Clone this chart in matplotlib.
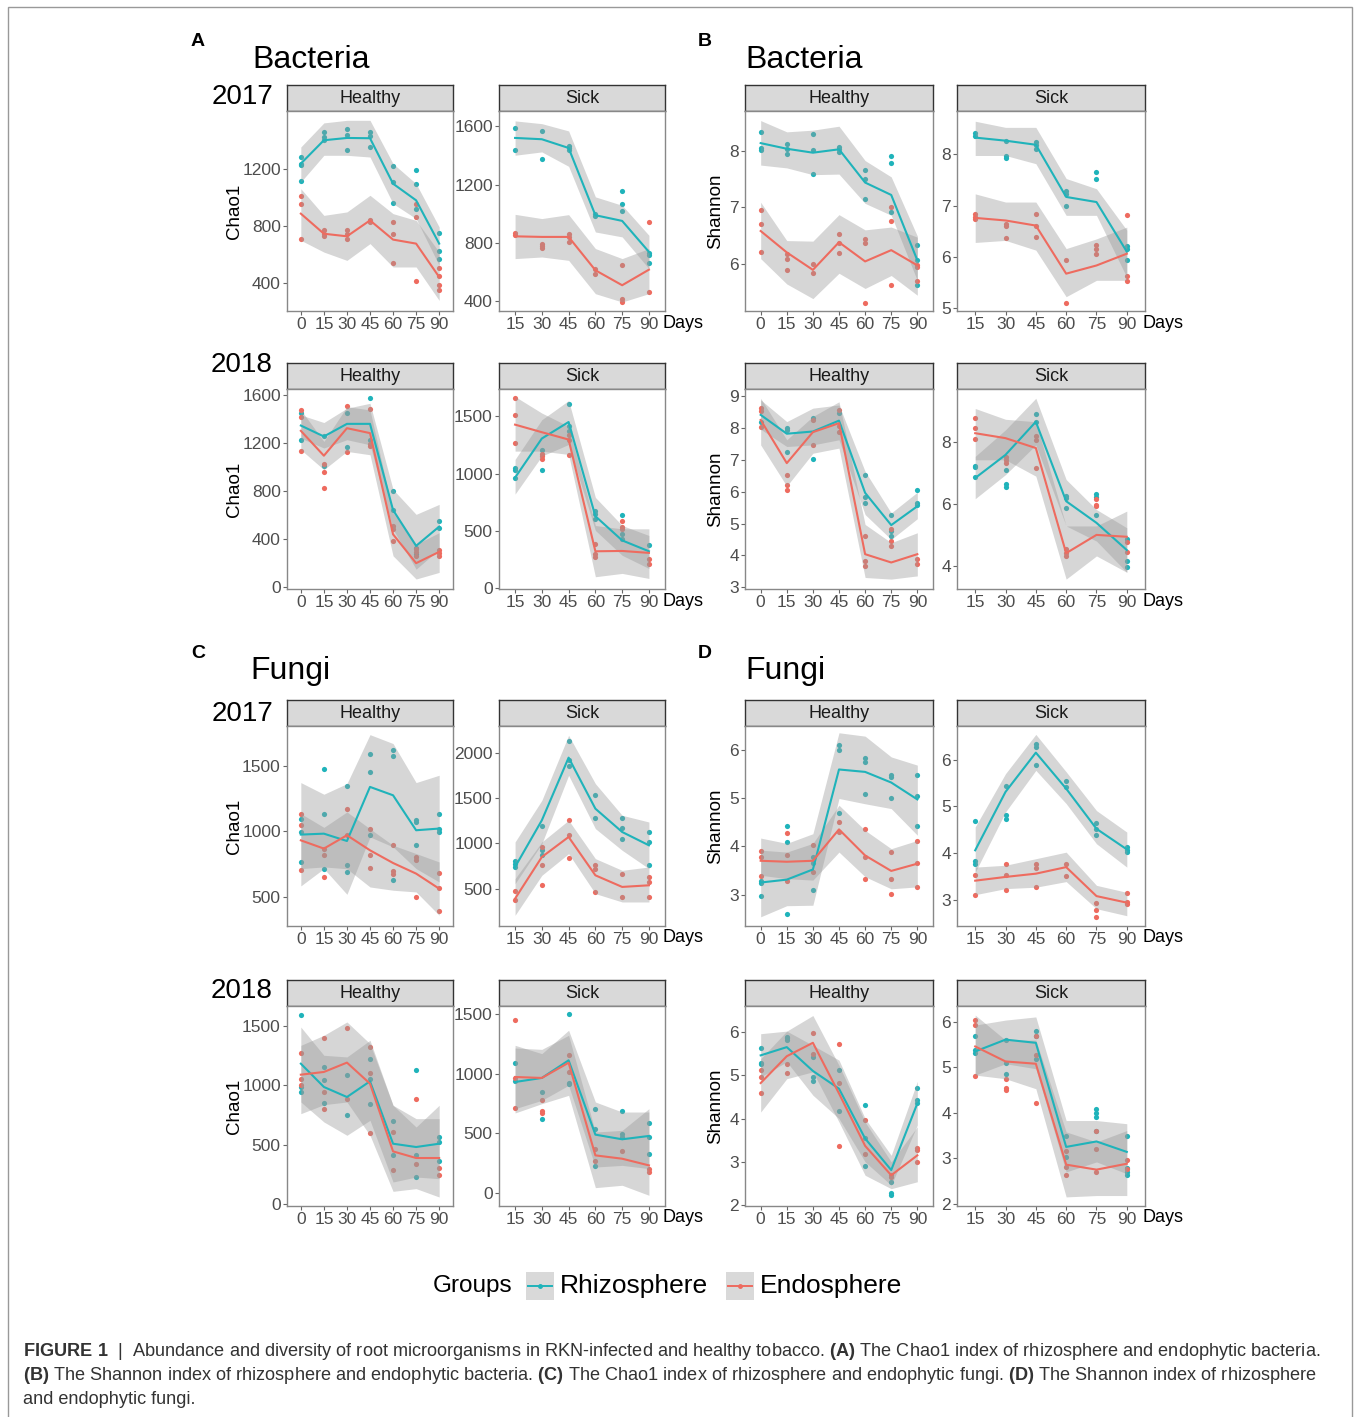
import numpy as np
import matplotlib
matplotlib.use('Agg')
import matplotlib.pyplot as plt
from matplotlib.patches import Rectangle
from matplotlib.lines import Line2D

plt.rcParams['font.family'] = ['Liberation Sans', 'DejaVu Sans']
plt.rcParams['mathtext.fontset'] = 'custom'
plt.rcParams['mathtext.rm'] = 'Liberation Sans'
plt.rcParams['mathtext.bf'] = 'Liberation Sans:bold'

days_healthy = [0, 15, 30, 45, 60, 75, 90]
days_sick = [15, 30, 45, 60, 75, 90]
groups = ['Rhizosphere', 'Endosphere']

# ---- A: Chao1 bacteria ----
A17H_R = [1235, 1398, 1414, 1412, 1095, 979, 677]
A17H_R_lo = [1107, 1293, 1293, 1281, 956, 851, 525]
A17H_R_hi = [1351, 1519, 1537, 1537, 1235, 1095, 793]
A17H_R_pts = [[1281, 1235, 1228, 1112], [1456, 1421, 1402], [1479, 1432, 1328], [1456, 1426, 1351],
              [1219, 1107, 960], [1188, 1095, 921], [753, 626, 567]]
A17H_E = [886, 746, 728, 839, 705, 677, 444]
A17H_E_lo = [700, 618, 560, 677, 514, 514, 281]
A17H_E_hi = [1060, 874, 898, 1014, 886, 839, 618]
A17H_E_pts = [[1009, 951, 712], [770, 746, 728], [770, 745, 712], [839, 835, 830],
              [828, 742, 544], [956, 863, 414], [507, 451, 386, 356]]

A17S_R = [1520, 1511, 1451, 989, 950, 737]
A17S_R_lo = [1401, 1424, 1325, 874, 840, 622]
A17S_R_hi = [1637, 1618, 1568, 1115, 1057, 851]
A17S_R_pts = [[1589, 1440], [1568, 1373], [1465, 1451, 1435], [1000, 984], [1153, 1069, 1018], [732, 716, 659]]
A17S_E = [844, 840, 840, 611, 508, 615]
A17S_E_lo = [691, 702, 679, 450, 393, 450]
A17S_E_hi = [995, 966, 993, 760, 691, 760]
A17S_E_pts = [[869, 856], [794, 778, 764], [858, 840, 805], [622, 588], [645, 416, 393], [943, 462]]

A18H_R = [1346, 1255, 1360, 1360, 643, 345, 505]
A18H_R_lo = [1241, 1159, 1228, 1186, 483, 151, 317]
A18H_R_hi = [1434, 1371, 1490, 1531, 814, 607, 690]
A18H_R_pts = [[1454, 1222], [1255, 1007], [1448, 1164], [1578, 1228], [805, 643], [331, 276], [552, 496]]
A18H_E = [1302, 1095, 1324, 1283, 441, 201, 295]
A18H_E_lo = [1145, 979, 1131, 1103, 262, 69, 124]
A18H_E_hi = [1476, 1214, 1503, 1476, 621, 358, 455]
A18H_E_pts = [[1476, 1421, 1131], [1029, 957, 827], [1509, 1123], [1481, 1194, 1172],
              [510, 483, 386], [317, 290, 262], [309, 284, 262]]

A18S_R = [966, 1307, 1451, 629, 418, 323]
A18S_R_lo = [822, 1154, 1255, 505, 288, 173]
A18S_R_hi = [1125, 1471, 1638, 793, 548, 461]
A18S_R_pts = [[1053, 1030, 966], [1206, 1033], [1610, 1413, 1370], [678, 649, 606], [640, 476, 433], [375]]
A18S_E = [1428, 1362, 1298, 323, 326, 309]
A18S_E_lo = [1197, 1197, 1168, 101, 130, 86]
A18S_E_hi = [1673, 1529, 1413, 548, 519, 519]
A18S_E_pts = [[1664, 1514, 1269], [1174, 1154, 1131], [1341, 1298, 1162], [383, 303, 274], [591, 539, 519], [259, 216]]

# ---- B: Shannon bacteria ----
B17H_R = [8.14, 8.04, 7.97, 8.03, 7.44, 7.22, 6.06]
B17H_R_lo = [7.75, 7.70, 7.58, 7.59, 7.07, 6.86, 5.70]
B17H_R_hi = [8.54, 8.34, 8.37, 8.44, 7.83, 7.54, 6.49]
B17H_R_pts = [[8.34, 8.05, 8.02], [8.13, 8.03, 7.94], [8.31, 8.01, 7.60], [8.07, 8.03, 7.98],
              [7.66, 7.50, 7.14], [7.92, 7.78, 6.92], [6.34, 6.06, 5.63]]
B17H_E = [6.58, 6.20, 5.89, 6.38, 6.04, 6.24, 5.97]
B17H_E_lo = [6.09, 5.64, 5.38, 5.83, 5.56, 5.79, 5.44]
B17H_E_hi = [7.09, 6.41, 6.40, 6.87, 6.60, 6.65, 6.47]
B17H_E_pts = [[6.95, 6.70, 6.21], [6.18, 6.09, 5.88], [5.99, 5.83], [6.52, 6.37, 6.19],
              [6.44, 6.37, 5.30], [7.00, 6.76, 5.63], [5.97, 5.94, 5.70]]

B17S_R = [8.33, 8.27, 8.19, 7.17, 7.07, 6.10]
B17S_R_lo = [7.98, 7.98, 7.82, 6.81, 6.81, 5.60]
B17S_R_hi = [8.65, 8.53, 8.53, 7.53, 7.33, 6.52]
B17S_R_pts = [[8.42, 8.37], [8.27, 7.98, 7.93], [8.24, 8.18, 8.10], [7.28, 7.23, 7.00], [7.65, 7.52], [6.21, 6.16, 5.93]]
B17S_E = [6.76, 6.71, 6.61, 5.67, 5.83, 6.06]
B17S_E_lo = [6.28, 6.32, 6.13, 5.22, 5.54, 5.54]
B17S_E_hi = [7.23, 7.07, 7.07, 6.16, 6.35, 6.58]
B17S_E_pts = [[6.84, 6.78, 6.73], [6.65, 6.60, 6.37], [6.84, 6.60, 6.39], [5.94, 5.10], [6.24, 6.16, 6.05], [6.82, 5.63, 5.53]]

B18H_R = [8.40, 7.81, 7.88, 8.22, 5.96, 4.95, 5.54]
B18H_R_lo = [7.95, 7.41, 7.46, 7.62, 5.28, 4.50, 5.15]
B18H_R_hi = [8.87, 8.19, 8.61, 8.71, 6.63, 5.33, 5.98]
B18H_R_pts = [[8.19], [7.98, 7.93, 7.23], [8.29, 7.03], [8.47], [6.53, 5.83, 5.65], [5.28, 4.76, 4.61], [6.06, 5.65, 5.59]]
B18H_E = [8.24, 6.89, 7.86, 8.14, 4.04, 3.78, 4.04]
B18H_E_lo = [7.46, 6.17, 7.20, 7.36, 3.31, 3.26, 3.36]
B18H_E_hi = [8.92, 7.62, 8.35, 8.81, 4.97, 4.40, 4.71]
B18H_E_pts = [[8.61, 8.53, 8.03], [6.53, 6.19, 6.06], [8.24, 7.46], [8.55, 8.05, 7.85],
              [4.61, 3.83, 3.67], [4.82, 4.45, 4.30], [3.90, 3.72]]

B18S_R = [6.84, 7.59, 8.66, 6.09, 5.39, 4.51]
B18S_R_lo = [6.17, 6.95, 7.91, 5.29, 4.80, 3.79]
B18S_R_hi = [7.54, 8.40, 9.42, 6.79, 5.82, 5.23]
B18S_R_pts = [[7.24, 7.20, 6.86], [7.09, 6.65, 6.54], [8.91, 8.66], [6.25, 6.20, 5.88], [6.33, 6.22, 5.66], [4.88, 4.16, 3.95]]
B18S_E = [8.29, 8.13, 7.81, 4.41, 5.00, 4.94]
B18S_E_lo = [7.43, 7.43, 6.90, 3.57, 4.32, 3.79]
B18S_E_hi = [9.09, 8.74, 8.66, 5.29, 5.29, 5.77]
B18S_E_pts = [[8.79, 8.47, 8.11], [7.52, 7.43, 7.32], [8.20, 8.08, 7.16], [4.56, 4.41, 4.32], [6.17, 5.98, 5.93], [4.77, 4.46]]

# ---- C: Chao1 fungi ----
C17H_R = [976, 983, 927, 1340, 1276, 1009, 1022]
C17H_R_lo = [584, 716, 520, 958, 882, 716, 614]
C17H_R_hi = [1373, 1284, 1365, 1739, 1671, 1373, 1429]
C17H_R_pts = [[1093, 995, 767], [1475, 1136, 716], [1347, 747, 691], [1589, 1454, 971],
              [1620, 1576, 627], [1085, 1072, 894], [1136, 1022, 996]]
C17H_E = [932, 869, 971, 856, 759, 678, 563]
C17H_E_lo = [716, 729, 715, 576, 551, 538, 360]
C17H_E_hi = [1136, 1031, 1149, 1020, 894, 831, 767]
C17H_E_pts = [[1136, 1047, 703], [869, 823, 652], [1169, 976], [1022, 823, 721],
              [894, 696, 678], [805, 785, 500], [683, 569, 390]]

C17S_R = [739, 1254, 1945, 1382, 1125, 978]
C17S_R_lo = [555, 996, 1750, 1162, 923, 721]
C17S_R_hi = [1015, 1474, 2191, 1658, 1309, 1235]
C17S_R_pts = [[805, 776, 739], [1191, 923, 875], [2125, 1915, 1849], [1529, 1279], [1283, 1169, 1044], [1125, 1015, 758]]
C17S_E = [390, 849, 1070, 647, 519, 537]
C17S_E_lo = [206, 647, 886, 445, 353, 353]
C17S_E_hi = [610, 1015, 1254, 831, 702, 739]
C17S_E_pts = [[471, 379], [960, 765, 537], [1261, 1096, 838], [765, 721, 463], [666, 408], [629, 574, 408]]

C18H_R = [1184, 987, 902, 1035, 507, 479, 507]
C18H_R_lo = [860, 691, 578, 705, 183, 225, 211]
C18H_R_hi = [1494, 1255, 1241, 1382, 832, 648, 832]
C18H_R_pts = [[1599, 987, 945], [1156, 1043, 854], [1085, 747], [1226, 1057, 846], [696, 409],
              [1128, 414, 225], [564, 521, 358]]
C18H_E = [1091, 1114, 1193, 1015, 442, 386, 386]
C18H_E_lo = [761, 837, 860, 578, 104, 127, 56]
C18H_E_hi = [1339, 1424, 1537, 1353, 832, 719, 719]
C18H_E_pts = [[1277, 1057, 1001], [1401, 944, 798], [1486, 888], [1325, 1108, 600], [606, 287], [888, 333], [304, 239]]

C18S_R = [932, 966, 1114, 490, 451, 479]
C18S_R_lo = [708, 778, 904, 218, 232, 205]
C18S_R_hi = [1240, 1170, 1366, 764, 680, 680]
C18S_R_pts = [[1094, 938], [848, 619], [1500, 926, 912], [708, 540, 227], [686, 498, 470], [588, 470, 330]]
C18S_E = [974, 966, 1094, 316, 288, 232]
C18S_E_lo = [672, 750, 820, 45, 65, -19]
C18S_E_hi = [1217, 1206, 1324, 512, 526, 708]
C18S_E_pts = [[1450, 966, 714], [784, 686, 675], [1156, 1016], [367, 269], [353], [205, 177]]

# ---- D: Shannon fungi ----
D17H_R = [3.25, 3.31, 3.52, 5.59, 5.54, 5.32, 4.97]
D17H_R_lo = [2.54, 2.77, 2.78, 4.99, 4.88, 4.78, 4.23]
D17H_R_hi = [4.17, 4.06, 4.26, 6.35, 6.28, 5.85, 5.68]
D17H_R_pts = [[3.28, 3.23, 2.97], [4.41, 4.09, 2.59], [3.78, 3.66, 3.09], [6.10, 5.99, 4.69],
              [5.83, 5.74, 5.09], [5.47, 5.43, 4.99], [5.47, 5.04, 4.41]]
D17H_E = [3.70, 3.68, 3.70, 4.35, 3.81, 3.49, 3.64]
D17H_E_lo = [3.40, 3.33, 3.30, 3.88, 3.37, 3.12, 3.16]
D17H_E_hi = [3.92, 3.88, 4.06, 4.85, 4.33, 3.95, 4.12]
D17H_E_pts = [[3.90, 3.77, 3.39], [4.28, 3.81, 3.28], [4.02, 3.46], [4.50, 4.30],
              [4.35, 3.78, 3.33], [3.88, 3.33, 3.02], [4.11, 3.66, 3.16]]

D17S_R = [4.06, 5.31, 6.15, 5.38, 4.52, 4.08]
D17S_R_lo = [3.59, 4.88, 5.77, 5.06, 4.20, 3.70]
D17S_R_hi = [4.56, 5.70, 6.54, 5.74, 4.91, 4.45]
D17S_R_pts = [[4.68, 3.84, 3.77], [5.43, 4.81, 4.74], [6.34, 6.26, 5.88], [5.54, 5.41], [4.65, 4.52, 4.39], [4.13, 4.07, 4.02]]
D17S_E = [3.41, 3.49, 3.56, 3.70, 3.08, 2.94]
D17S_E_lo = [3.11, 3.24, 3.27, 3.39, 2.81, 2.66]
D17S_E_hi = [3.70, 3.74, 3.88, 4.02, 3.31, 3.16]
D17S_E_pts = [[3.54, 3.11], [3.76, 3.54, 3.22], [3.76, 3.69, 3.27], [3.77, 3.52], [2.94, 2.79, 2.64], [3.15, 2.95, 2.91]]

D18H_R = [5.46, 5.65, 5.10, 4.69, 3.54, 2.81, 4.35]
D18H_R_lo = [4.96, 5.31, 4.54, 4.00, 3.00, 2.46, 3.85]
D18H_R_hi = [5.96, 6.02, 5.69, 5.35, 4.00, 3.15, 4.86]
D18H_R_pts = [[5.62, 5.29, 5.27], [5.88, 5.85, 5.81], [5.42, 4.96, 4.86], [5.12, 4.17],
              [4.32, 3.54, 2.90], [2.54, 2.27, 2.23], [4.71, 4.42, 4.35]]
D18H_E = [4.82, 5.44, 5.75, 4.58, 3.37, 2.69, 3.15]
D18H_E_lo = [4.15, 4.92, 5.08, 3.92, 2.69, 2.38, 2.54]
D18H_E_hi = [5.38, 6.02, 6.38, 5.23, 3.92, 3.00, 3.81]
D18H_E_pts = [[5.12, 4.96, 4.58], [5.25, 5.05], [5.98, 5.48], [5.73, 4.81, 3.37],
              [3.96, 3.19], [2.69, 2.65], [3.32, 3.27, 3.00]]

D18S_R = [5.35, 5.61, 5.54, 3.25, 3.37, 3.14]
D18S_R_lo = [4.83, 5.08, 4.97, 2.70, 2.92, 2.66]
D18S_R_hi = [5.93, 6.04, 6.11, 3.83, 3.83, 3.76]
D18S_R_pts = [[5.68, 5.38, 5.32], [5.60, 5.10, 4.86], [5.79, 5.69, 5.18], [3.49, 3.03],
              [4.09, 4.00, 3.91, 3.60], [3.49, 2.78, 2.70, 2.64]]
D18S_E = [5.46, 5.13, 5.08, 2.86, 2.75, 2.88]
D18S_E_lo = [4.83, 4.75, 4.53, 2.15, 2.18, 2.18]
D18S_E_hi = [6.15, 5.60, 5.60, 3.58, 3.36, 3.61]
D18S_E_pts = [[6.04, 5.94, 4.81], [4.74, 4.55, 4.51], [5.69, 5.27, 4.22], [3.15, 2.81, 2.64],
              [3.60, 3.21, 2.70], [2.97, 2.77]]

W, H = 1354, 1417
TEAL = '#1fb3ba'
RED = '#ee6b5f'

fig = plt.figure(figsize=(W / 100, H / 100), dpi=100)


def fx(x):
    return x / W


def fy(y):
    return 1 - y / H


def box(x0, y0, x1, y1):
    return [x0 / W, 1 - y1 / H, (x1 - x0) / W, (y1 - y0) / H]


def draw_panel(cols, rows, days, label, series, ticks, ylim):
    x0, x1 = cols
    s0, s1, p1 = rows
    st = fig.add_axes(box(x0, s0, x1, s1))
    st.set_facecolor('#d9d9d9')
    st.set_xticks([])
    st.set_yticks([])
    for sp in st.spines.values():
        sp.set_color('#333333')
        sp.set_linewidth(1)
    st.text(0.5, 0.47, label, ha='center', va='center', fontsize=13, color='#1a1a1a', transform=st.transAxes)

    ax = fig.add_axes(box(x0, s1, x1, p1))
    xs = np.arange(len(days))
    for mean, lo, hi, pts, color in series:
        px = [i for i, p in enumerate(pts) for v in p]
        py = [v for p in pts for v in p]
        ax.scatter(px, py, s=14, color=color, linewidths=0, zorder=2)
    for mean, lo, hi, pts, color in series:
        ax.fill_between(xs, lo, hi, color='#999999', alpha=0.4, linewidth=0, zorder=3)
    for mean, lo, hi, pts, color in series:
        ax.plot(xs, mean, color=color, lw=1.5, zorder=4)
    ax.set_xlim(-0.6, len(days) - 0.4)
    ax.set_ylim(*ylim)
    ax.set_xticks(xs)
    ax.set_xticklabels([str(d) for d in days])
    ax.set_yticks(ticks)
    ax.set_yticklabels([str(t) for t in ticks])
    for sp in ax.spines.values():
        sp.set_color('#888888')
        sp.set_linewidth(1)
    ax.tick_params(length=3, width=0.8, color='#666666', labelsize=12.5, labelcolor='#4d4d4d', pad=1.5)
    return ax


col_AH = (287, 453)
col_AS = (499, 665)
col_BH = (745, 933)
col_BS = (957, 1145)
row1 = (85, 111, 311)
row2 = (363, 389, 589)
row3 = (700, 726, 926)
row4 = (980, 1006, 1206)

# A
draw_panel(col_AH, row1, days_healthy, 'Healthy',
           [(A17H_R, A17H_R_lo, A17H_R_hi, A17H_R_pts, TEAL), (A17H_E, A17H_E_lo, A17H_E_hi, A17H_E_pts, RED)],
           [400, 800, 1200], (207, 1602))
draw_panel(col_AS, row1, days_sick, 'Sick',
           [(A17S_R, A17S_R_lo, A17S_R_hi, A17S_R_pts, TEAL), (A17S_E, A17S_E_lo, A17S_E_hi, A17S_E_pts, RED)],
           [400, 800, 1200, 1600], (331, 1705))
draw_panel(col_AH, row2, days_healthy, 'Healthy',
           [(A18H_R, A18H_R_lo, A18H_R_hi, A18H_R_pts, TEAL), (A18H_E, A18H_E_lo, A18H_E_hi, A18H_E_pts, RED)],
           [0, 400, 800, 1200, 1600], (-14, 1650))
draw_panel(col_AS, row2, days_sick, 'Sick',
           [(A18S_R, A18S_R_lo, A18S_R_hi, A18S_R_pts, TEAL), (A18S_E, A18S_E_lo, A18S_E_hi, A18S_E_pts, RED)],
           [0, 500, 1000, 1500], (-6, 1739))
# B
draw_panel(col_BH, row1, days_healthy, 'Healthy',
           [(B17H_R, B17H_R_lo, B17H_R_hi, B17H_R_pts, TEAL), (B17H_E, B17H_E_lo, B17H_E_hi, B17H_E_pts, RED)],
           [6, 7, 8], (5.16, 8.71))
draw_panel(col_BS, row1, days_sick, 'Sick',
           [(B17S_R, B17S_R_lo, B17S_R_hi, B17S_R_pts, TEAL), (B17S_E, B17S_E_lo, B17S_E_hi, B17S_E_pts, RED)],
           [5, 6, 7, 8], (4.94, 8.85))
draw_panel(col_BH, row2, days_healthy, 'Healthy',
           [(B18H_R, B18H_R_lo, B18H_R_hi, B18H_R_pts, TEAL), (B18H_E, B18H_E_lo, B18H_E_hi, B18H_E_pts, RED)],
           [3, 4, 5, 6, 7, 8, 9], (2.95, 9.21))
draw_panel(col_BS, row2, days_sick, 'Sick',
           [(B18S_R, B18S_R_lo, B18S_R_hi, B18S_R_pts, TEAL), (B18S_E, B18S_E_lo, B18S_E_hi, B18S_E_pts, RED)],
           [4, 6, 8], (3.25, 9.72))
# C
draw_panel(col_AH, row3, days_healthy, 'Healthy',
           [(C17H_R, C17H_R_lo, C17H_R_hi, C17H_R_pts, TEAL), (C17H_E, C17H_E_lo, C17H_E_hi, C17H_E_pts, RED)],
           [500, 1000, 1500], (278, 1805))
draw_panel(col_AS, row3, days_sick, 'Sick',
           [(C17S_R, C17S_R_lo, C17S_R_hi, C17S_R_pts, TEAL), (C17S_E, C17S_E_lo, C17S_E_hi, C17S_E_pts, RED)],
           [500, 1000, 1500, 2000], (88, 2294))
draw_panel(col_AH, row4, days_healthy, 'Healthy',
           [(C18H_R, C18H_R_lo, C18H_R_hi, C18H_R_pts, TEAL), (C18H_E, C18H_E_lo, C18H_E_hi, C18H_E_pts, RED)],
           [0, 500, 1000, 1500], (-20, 1672))
draw_panel(col_AS, row4, days_sick, 'Sick',
           [(C18S_R, C18S_R_lo, C18S_R_hi, C18S_R_pts, TEAL), (C18S_E, C18S_E_lo, C18S_E_hi, C18S_E_pts, RED)],
           [0, 500, 1000, 1500], (-109, 1570))
# D
draw_panel(col_BH, row3, days_healthy, 'Healthy',
           [(D17H_R, D17H_R_lo, D17H_R_hi, D17H_R_pts, TEAL), (D17H_E, D17H_E_lo, D17H_E_hi, D17H_E_pts, RED)],
           [3, 4, 5, 6], (2.35, 6.49))
draw_panel(col_BS, row3, days_sick, 'Sick',
           [(D17S_R, D17S_R_lo, D17S_R_hi, D17S_R_pts, TEAL), (D17S_E, D17S_E_lo, D17S_E_hi, D17S_E_pts, RED)],
           [3, 4, 5, 6], (2.44, 6.72))
draw_panel(col_BH, row4, days_healthy, 'Healthy',
           [(D18H_R, D18H_R_lo, D18H_R_hi, D18H_R_pts, TEAL), (D18H_E, D18H_E_lo, D18H_E_hi, D18H_E_pts, RED)],
           [2, 3, 4, 5, 6], (1.98, 6.6))
draw_panel(col_BS, row4, days_sick, 'Sick',
           [(D18S_R, D18S_R_lo, D18S_R_hi, D18S_R_pts, TEAL), (D18S_E, D18S_E_lo, D18S_E_hi, D18S_E_pts, RED)],
           [2, 3, 4, 5, 6], (1.95, 6.35))

# axis titles, "Days", years
for row in (row1, row2, row3, row4):
    yc = (row[1] + row[2]) / 2
    fig.text(fx(235), fy(yc), 'Chao1', rotation=90, ha='center', va='center', fontsize=13.5)
    fig.text(fx(716), fy(yc), 'Shannon', rotation=90, ha='center', va='center', fontsize=13.5)
    fig.text(fx(662), fy(row[2] + 12), 'Days', ha='left', va='center', fontsize=13)
    fig.text(fx(1143), fy(row[2] + 12), 'Days', ha='left', va='center', fontsize=13)

for yr, yc in [('2017', 97), ('2018', 365), ('2017', 714), ('2018', 991)]:
    fig.text(fx(273), fy(yc), yr, ha='right', va='center', fontsize=20)

for letter, x, y in [('A', 191, 42), ('B', 698, 42), ('C', 191, 653), ('D', 698, 653)]:
    fig.text(fx(x), fy(y), letter, ha='left', va='center', fontsize=14, fontweight='bold')

for title, x, y in [('Bacteria', 252, 60), ('Bacteria', 745, 60), ('Fungi', 250, 671), ('Fungi', 745, 671)]:
    fig.text(fx(x), fy(y), title, ha='left', va='center', fontsize=23)

# legend
ly = 1286
fig.text(fx(433), fy(ly), 'Groups', ha='left', va='center', fontsize=17.5)
for x0, color, name in [(526, TEAL, groups[0]), (726, RED, groups[1])]:
    fig.add_artist(Rectangle((fx(x0), fy(ly + 14)), 28 / W, 28 / H, transform=fig.transFigure,
                             facecolor='#d9d9d9', edgecolor='none'))
    fig.add_artist(Line2D([fx(x0 + 2), fx(x0 + 26)], [fy(ly), fy(ly)], transform=fig.transFigure,
                          color=color, lw=1.4))
    fig.add_artist(Line2D([fx(x0 + 14)], [fy(ly)], transform=fig.transFigure, color=color,
                          marker='o', markersize=2.5, lw=0))
    fig.text(fx(x0 + 34), fy(ly), name, ha='left', va='center', fontsize=19)

# outer frame
fig.add_artist(Rectangle((fx(8), fy(1425)), (1352 - 8) / W, (1425 - 7) / H, transform=fig.transFigure,
                         fill=False, edgecolor='#999999', lw=1))

# caption
cap_lines = [
    r'$\mathbf{FIGURE\ 1}$  |  Abundance and diversity of root microorganisms in RKN-infected and healthy tobacco. '
    r'$\mathbf{(A)}$ The Chao1 index of rhizosphere and endophytic bacteria.',
    r'$\mathbf{(B)}$ The Shannon index of rhizosphere and endophytic bacteria. $\mathbf{(C)}$ The Chao1 index of '
    r'rhizosphere and endophytic fungi. $\mathbf{(D)}$ The Shannon index of rhizosphere',
    'and endophytic fungi.',
]
caps = []
for txt, y in zip(cap_lines, [1351, 1376, 1400]):
    caps.append(fig.text(fx(23), fy(y), txt, ha='left', va='center', fontsize=12, color='#333333'))
renderer = fig.canvas.get_renderer()
w1 = caps[0].get_window_extent(renderer).width
for t in caps:
    t.set_fontsize(12 * 1297 / w1)

fig.savefig('out.png', dpi=100)
